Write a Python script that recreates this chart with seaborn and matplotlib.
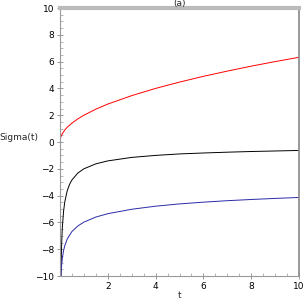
import numpy as np
import pandas as pd
import matplotlib
matplotlib.use("Agg")
import matplotlib.pyplot as plt
import seaborn as sns
from matplotlib.ticker import MultipleLocator, FixedLocator

# values
t_red = [0, 0.01, 0.03, 0.06, 0.1, 0.2, 0.3, 0.5, 0.75, 1, 1.5, 2, 3, 4, 5, 6, 7, 8, 9, 10]
sig_red = [0, 0.2, 0.35, 0.49, 0.63, 0.89, 1.10, 1.41, 1.73, 2.0, 2.45, 2.83, 3.46, 4.0, 4.47, 4.9, 5.29, 5.66, 6.0, 6.32]

t_black = [0.04, 0.05, 0.06, 0.08, 0.1, 0.15, 0.2, 0.3, 0.4, 0.5, 0.75, 1, 1.5, 2, 3, 4, 5, 6, 7, 8, 9, 10]
sig_black = [-10.0, -8.94, -8.16, -7.07, -6.32, -5.16, -4.47, -3.65, -3.16, -2.83, -2.31, -2.0, -1.63, -1.41,
             -1.15, -1.0, -0.89, -0.82, -0.76, -0.71, -0.67, -0.63]

t_blue = [0.04, 0.05, 0.06, 0.08, 0.1, 0.15, 0.2, 0.3, 0.4, 0.5, 0.75, 1, 1.5, 2, 3, 4, 5, 6, 7, 8, 9, 10]
sig_blue = [-10.0, -9.64, -9.38, -9.01, -8.64, -8.09, -7.74, -7.25, -6.95, -6.68, -6.26, -5.98, -5.60, -5.35,
            -5.02, -4.79, -4.62, -4.49, -4.38, -4.29, -4.21, -4.14]

x_ticks = [2, 4, 6, 8, 10]
y_ticks = [-10, -8, -6, -4, -2, 0, 2, 4, 6, 8, 10]

df = pd.concat([
    pd.DataFrame({"t": t_red, "Sigma": sig_red, "curve": "red"}),
    pd.DataFrame({"t": t_black, "Sigma": sig_black, "curve": "black"}),
    pd.DataFrame({"t": t_blue, "Sigma": sig_blue, "curve": "blue"}),
])

sns.set_style("white")
plt.rcParams['font.family'] = ['DejaVu Sans']

fig = plt.figure(figsize=(3.04, 3.04), dpi=100)
ax = fig.add_axes([60/304, 28/304, 239/304, 268/304])

palette = {"red": "#ff0000", "black": "#000000", "blue": "#2a2aa8"}
for name in ["red", "black", "blue"]:
    sub = df[df["curve"] == name]
    sns.lineplot(data=sub, x="t", y="Sigma", ax=ax, color=palette[name], lw=0.7,
                 sort=False, estimator=None, legend=False)

ax.set_xlim(0, 10)
ax.set_ylim(-10, 10)
ax.xaxis.set_major_locator(FixedLocator(x_ticks))
ax.yaxis.set_major_locator(FixedLocator(y_ticks))
ax.xaxis.set_minor_locator(MultipleLocator(0.5))
ax.yaxis.set_minor_locator(MultipleLocator(0.5))
ax.set_xticklabels([str(v) for v in x_ticks])
ax.set_yticklabels([str(v) if v >= 0 else "\u2212" + str(-v) for v in y_ticks])

ax.tick_params(axis="both", which="major", direction="inout", length=4, width=0.6,
               colors="#888888", labelcolor="black", labelsize=6.5, pad=2, left=True, bottom=True)
ax.tick_params(axis="both", which="minor", direction="in", length=2, width=0.5,
               colors="#999999", left=True, bottom=True)

for s in ["left", "bottom"]:
    ax.spines[s].set_color("#999999")
    ax.spines[s].set_linewidth(0.8)
ax.spines["top"].set_color("#bbbbbb")
ax.spines["top"].set_linewidth(3)
ax.spines["right"].set_color("#888888")
ax.spines["right"].set_linewidth(1.2)

ax.set_xlabel("t", fontsize=6.5)
ax.xaxis.set_label_coords(0.5, -0.055)
ax.set_ylabel("Sigma(t)", fontsize=6.5, rotation=0, labelpad=0)
ax.yaxis.set_label_coords(-0.17, 0.5)
ax.set_title("(a)", fontsize=6.5, pad=1)

fig.savefig("out.png", dpi=100)
